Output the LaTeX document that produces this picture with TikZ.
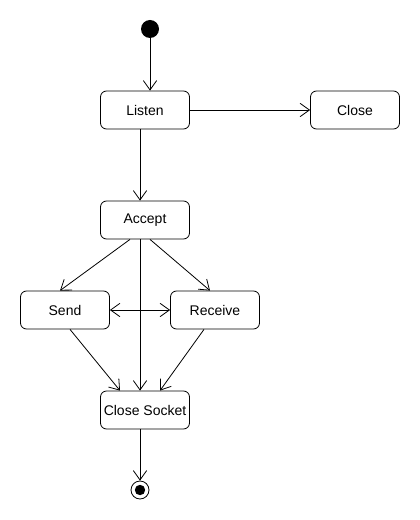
\documentclass[tikz,border=0pt]{standalone}
\usepackage{fontspec}
\setmainfont{Liberation Sans}
\usetikzlibrary{arrows.meta}
\begin{document}
\begin{tikzpicture}[x=0.75pt, y=-0.75pt, line width=0.6pt,
  state/.style={draw, rounded corners=4.5pt, minimum width=66.75pt, minimum height=28.5pt, inner sep=0pt, font=\fontsize{10.5}{12}\selectfont},
  barb/.tip={Straight Barb[length=7pt,width=10pt]},
  flow/.style={-barb},
  twoway/.style={barb-barb}]
\useasboundingbox (0,0) rectangle (420,520);
\node[circle, fill, inner sep=0pt, minimum size=13.5pt] (start) at (150,29) {};
\node[state] (listen) at (145,110) {Listen};
\node[state] (close) at (355,110) {Close};
\node[state] (accept) at (145,220) {Accept};
\node[state] (send) at (65,310) {Send};
\node[state] (receive) at (215,310) {Receive};
\node[state] (closesocket) at (145,410) {Close Socket};
\node[circle, draw, inner sep=0pt, minimum size=13.5pt] (end) at (140,490) {};
\fill (end) circle (3.9pt);
  \draw[flow] (start) -- (start |- listen.north);
  \draw[flow] (listen) -- (close);
  \draw[flow] ([xshift=-3.75pt]listen.south) -- ([xshift=-3.75pt]accept.north);
  \draw[flow] ([xshift=-11.25pt]accept.south) -- ([xshift=-3.75pt]send.north);
  \draw[flow] ([xshift=3.75pt]accept.south) -- ([xshift=-3.75pt]receive.north);
  \draw[flow] ([xshift=-3.75pt]accept.south) -- ([xshift=-3.75pt]closesocket.north);
  \draw[twoway] (send) -- (receive);
  \draw[flow] ([xshift=3.75pt]send.south) -- ([xshift=-18.75pt]closesocket.north);
  \draw[flow] ([xshift=-8.25pt]receive.south) -- ([xshift=11.25pt]closesocket.north);
  \draw[flow] ([xshift=-3.75pt]closesocket.south) -- (end);
\end{tikzpicture}
\end{document}
